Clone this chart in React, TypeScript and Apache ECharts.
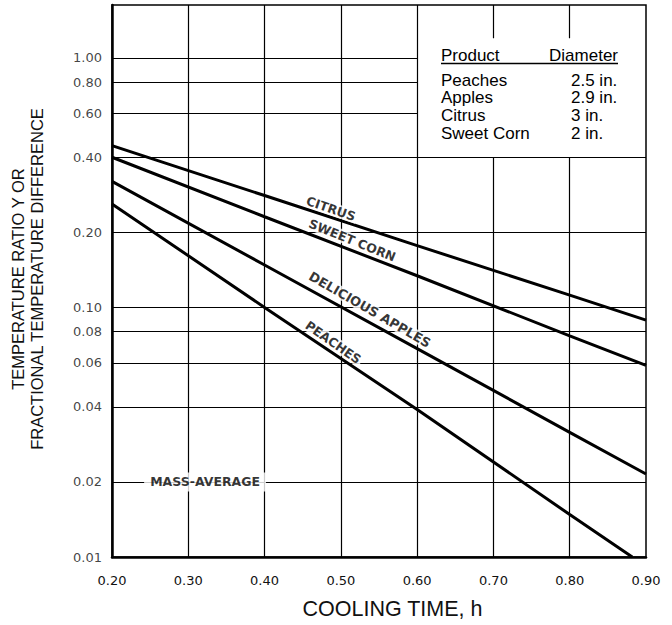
import React, { useEffect, useRef } from "react";
import * as echarts from "echarts";

// ---- data ----
const xTicks = [0.2, 0.3, 0.4, 0.5, 0.6, 0.7, 0.8, 0.9];
const yGridValues = [0.01, 0.02, 0.04, 0.06, 0.08, 0.1, 0.2, 0.4, 0.6, 0.8, 1.0];
const yGridLabels = ["0.01", "0.02", "0.04", "0.06", "0.08", "0.10", "0.20", "0.40", "0.60", "0.80", "1.00"];
const xMin = 0.2;
const xMax = 0.9;
const yMin = 0.01;
const yMax = 1.63;

const timeHours = [0.2, 0.4, 0.6, 0.8, 0.9];
const citrus = [0.445, 0.281, 0.177, 0.112, 0.089];
const sweetCorn = [0.4, 0.231, 0.134, 0.077, 0.0586];
const apples = [0.32, 0.148, 0.0684, 0.0316, 0.0215];
const peachesTime = [0.2, 0.4, 0.6, 0.8, 0.882];
const peaches = [0.26, 0.1, 0.039, 0.0148, 0.01];

const curveLabels = ["CITRUS", "SWEET CORN", "DELICIOUS APPLES", "PEACHES"];
const curveLabelX = [0.487, 0.515, 0.538, 0.49];
const curveLabelY = [0.249, 0.186, 0.098, 0.0725];
const massAverageText = "MASS-AVERAGE";
const massAverageAt = [0.322, 0.02];

const legendHeader = ["Product", "Diameter"];
const products = ["Peaches", "Apples", "Citrus", "Sweet Corn"];
const diameters = ["2.5 in.", "2.9 in.", "3 in.", "2 in."];

// legend box extent (in data units)
const boxLeft = 0.6;
const boxBottom = 0.4;
const boxTop = 1.2;

// ---- styles ----
const curveLabelRotate = [-19, -22, -30, -35];
const curveLabelSize = [12.5, 12.5, 13, 12.5];
const tickFont = "DejaVu Sans";
const textFont = "Liberation Sans";

export default function App() {
  const ref = useRef<HTMLDivElement>(null);

  useEffect(() => {
    if (!ref.current) return;
    const chart = echarts.init(ref.current, undefined, { renderer: "svg" });

    const segments: any[] = [];
    yGridValues.forEach((v) => {
      const end = v > boxBottom + 1e-9 ? boxLeft : xMax;
      segments.push({ coords: [[xMin, v], [end, v]] });
    });
    xTicks.forEach((x) => {
      if (x <= xMin + 1e-9 || x >= xMax - 1e-9) return;
      if (x > boxLeft + 1e-9) {
        segments.push({ coords: [[x, yMin], [x, boxBottom]] });
        segments.push({ coords: [[x, boxTop], [x, yMax]] });
      } else {
        segments.push({ coords: [[x, yMin], [x, yMax]] });
      }
    });

    const lineSeries = (name: string, xs: number[], ys: number[]) => ({
      name,
      type: "line",
      data: xs.map((x, i) => [x, ys[i]]),
      showSymbol: false,
      symbol: "none",
      lineStyle: { color: "#000", width: 3 },
      z: 3,
      silent: true,
    });

    const textStyle = (text: string, align: string) => ({
      text,
      fontFamily: textFont,
      fontSize: 17,
      fill: "#000",
      align,
      verticalAlign: "middle",
      textAlign: align,
      textVerticalAlign: "middle",
    });

    const legendGraphics: any[] = [];
    legendGraphics.push({ type: "text", x: 441, y: 55.5, style: textStyle(legendHeader[0], "left") });
    legendGraphics.push({ type: "text", x: 618, y: 55.5, style: textStyle(legendHeader[1], "right") });
    legendGraphics.push({
      type: "line",
      shape: { x1: 441, y1: 63.5, x2: 618, y2: 63.5 },
      style: { stroke: "#000", lineWidth: 1.3 },
    });
    products.forEach((p, i) => {
      const y = 80 + i * 17.8;
      legendGraphics.push({ type: "text", x: 441, y, style: textStyle(p, "left") });
      legendGraphics.push({ type: "text", x: 571, y, style: textStyle(diameters[i], "left") });
    });

    chart.setOption({
      animation: false,
      backgroundColor: "#fff",
      grid: {
        left: 112,
        right: 26,
        top: 5,
        bottom: 62,
        show: true,
        borderColor: "#000",
        borderWidth: 1.5,
        backgroundColor: "transparent",
      },
      xAxis: {
        type: "value",
        min: xMin,
        max: xMax,
        interval: 0.1,
        axisLine: { show: true, lineStyle: { color: "#000", width: 2.5 } },
        axisTick: { show: false },
        splitLine: { show: false },
        axisLabel: {
          formatter: (v: number) => v.toFixed(2),
          fontFamily: tickFont,
          fontSize: 13,
          color: "#111",
          margin: 17,
        },
        name: "COOLING TIME, h",
        nameLocation: "middle",
        nameGap: 41,
        nameTextStyle: { fontFamily: textFont, fontSize: 21.5, color: "#111", padding: [0, 0, 0, 27] },
      },
      yAxis: {
        type: "log",
        logBase: 10,
        min: yMin,
        max: yMax,
        axisLine: { show: true, lineStyle: { color: "#000", width: 2.5 } },
        axisTick: { show: false },
        splitLine: { show: false },
        minorSplitLine: { show: false },
        axisLabel: { show: false },
        name: "TEMPERATURE RATIO Y OR\nFRACTIONAL TEMPERATURE DIFFERENCE",
        nameLocation: "middle",
        nameGap: 65,
        nameTextStyle: { fontFamily: textFont, fontSize: 16.5, lineHeight: 19.5, color: "#111", padding: [0, 0, 0, 4] },
      },
      graphic: legendGraphics,
      series: [
        {
          type: "lines",
          coordinateSystem: "cartesian2d",
          polyline: false,
          data: segments,
          lineStyle: { color: "#000", width: 1.2, opacity: 1 },
          symbol: ["none", "none"],
          z: 1,
          silent: true,
        },
        lineSeries("Citrus", timeHours, citrus),
        lineSeries("Sweet Corn", timeHours, sweetCorn),
        lineSeries("Delicious Apples", timeHours, apples),
        lineSeries("Peaches", peachesTime, peaches),
        {
          type: "scatter",
          data: yGridValues.map((v) => [xMin, v]),
          symbolSize: 0,
          clip: false,
          silent: true,
          z: 4,
          label: {
            show: true,
            position: "left",
            distance: 10,
            formatter: (p: any) => yGridLabels[p.dataIndex],
            fontFamily: tickFont,
            fontSize: 13,
            color: "#111",
          },
        },
        {
          type: "scatter",
          data: curveLabels.map((t, i) => ({
            value: [curveLabelX[i], curveLabelY[i]],
            label: { rotate: curveLabelRotate[i], fontSize: curveLabelSize[i] },
          })),
          symbolSize: 0,
          clip: false,
          silent: true,
          z: 6,
          label: {
            show: true,
            position: "inside",
            formatter: (p: any) => curveLabels[p.dataIndex],
            fontFamily: tickFont,
            fontWeight: "bold",
            fontSize: 12.5,
            color: "#000",
            backgroundColor: "#fff",
            padding: [0, 2],
          },
        },
        {
          type: "scatter",
          data: [massAverageAt],
          symbolSize: 0,
          clip: false,
          silent: true,
          z: 6,
          label: {
            show: true,
            position: "inside",
            formatter: () => massAverageText,
            fontFamily: tickFont,
            fontWeight: "bold",
            fontSize: 12.5,
            color: "#000",
            backgroundColor: "#fff",
            padding: [3, 6],
          },
        },
      ],
    });

    return () => {
      chart.dispose();
    };
  }, []);

  return (
    <div
      ref={ref}
      style={{ position: "fixed", left: 0, top: 0, width: 672, height: 625, background: "#fff" }}
    />
  );
}
